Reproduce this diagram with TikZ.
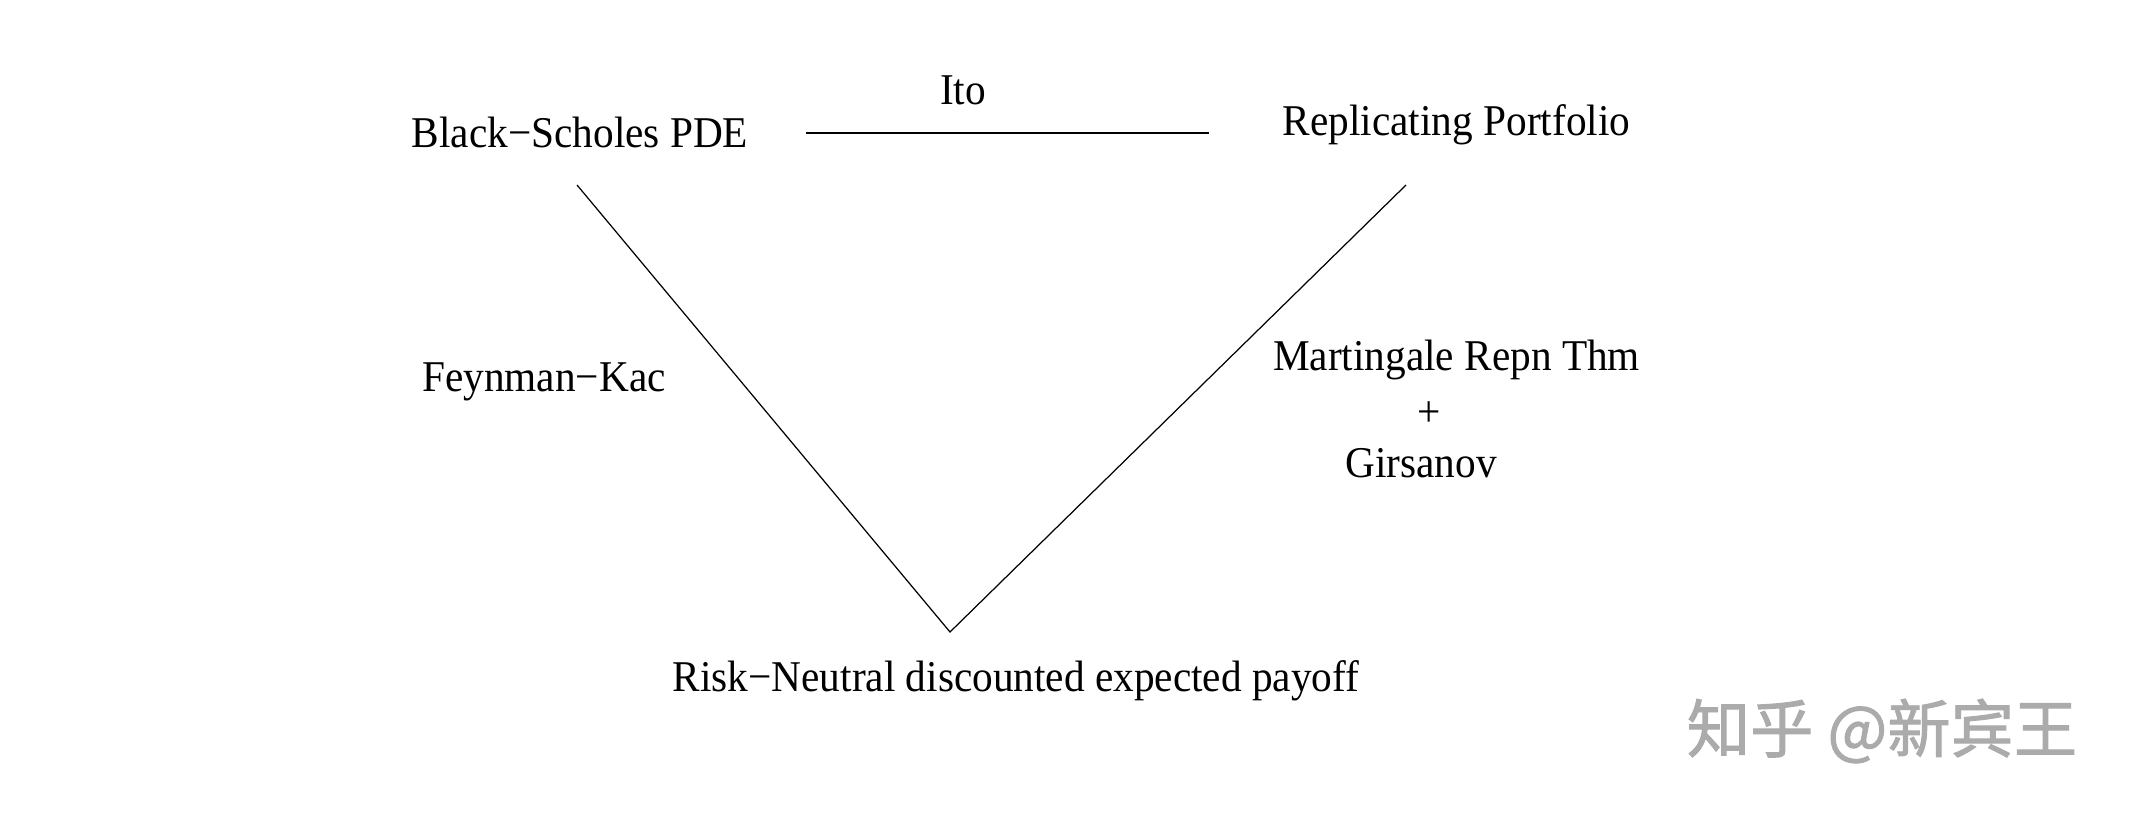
\documentclass[tikz,border=0pt]{standalone}
\usepackage{fontspec}
\setmainfont[FakeStretch=0.94]{Liberation Serif}
\newfontfamily\cjk[FakeBold=1.5]{Noto Sans CJK SC}
\newcommand{\mdash}{\char"2212\relax}
\begin{document}
\begin{tikzpicture}[
every node/.style={
inner sep=0pt,
align=center,
font=\fontsize{12.5}{15}\selectfont
},
link/.style={line width=0.35pt}
]
\useasboundingbox (0,0) rectangle (21.34,8.16);
\node (bs) at (5.80,6.84) {Black\mdash Scholes PDE};
\node (ito) at (9.63,7.26) {Ito};
\node (rp) at (14.565,6.91) {Replicating Portfolio};
\node (fk) at (5.44,4.34) {Feynman\mdash Kac};
\node (mrt) at (14.565,4.56) {Martingale Repn Thm};
\node (plus) at (14.29,4.02) {+};
\node (gir) at (14.21,3.53) {Girsanov};
\node (rn) at (10.16,1.35) {Risk\mdash Neutral discounted expected payoff};
\node (mark) at (18.82,0.85) [font=\cjk\fontsize{18}{20}\selectfont, text=black!33] {知乎 @新宾王};
% line ends
\coordinate (itoL) at (8.06,6.83);
\coordinate (itoR) at (12.09,6.83);
\coordinate (bsD) at (5.77,6.31);
\coordinate (rpD) at (14.06,6.31);
\coordinate (tip) at (9.50,1.84);
\draw[link] (itoL) -- (itoR);
\draw[link] (bsD) -- (tip) -- (rpD);
\end{tikzpicture}
\end{document}
